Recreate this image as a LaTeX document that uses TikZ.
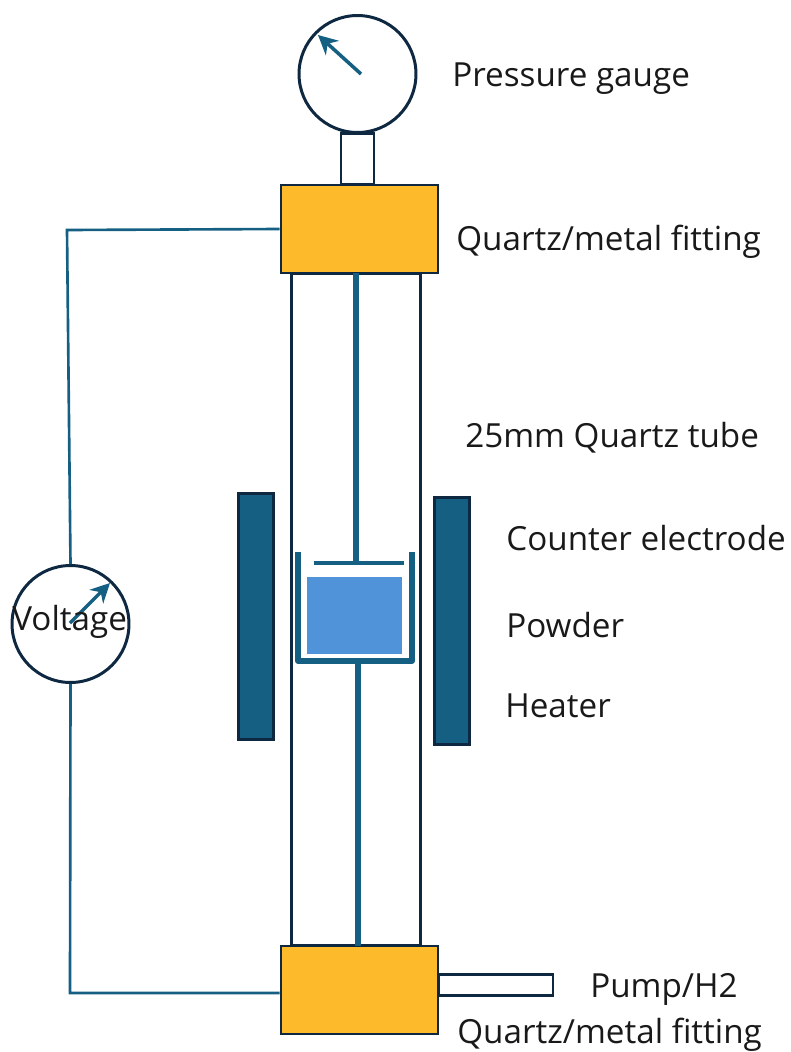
\documentclass[tikz,border=0pt]{standalone}
\usepackage{fontspec}
\setmainfont{Open Sans}
\usetikzlibrary{arrows.meta}
\definecolor{darkline}{HTML}{0E2841}
\definecolor{teal}{HTML}{156082}
\definecolor{fittingcol}{HTML}{FDBB2B}
\definecolor{powdercol}{HTML}{5093D8}
\tikzset{
	fitting/.style={draw=darkline,fill=fittingcol,line width=1.5pt,minimum width=3.14cm,minimum height=1.76cm,inner sep=0pt},
	heater/.style={draw=darkline,fill=teal,line width=1.7pt,minimum width=0.70cm,inner sep=0pt},
	dial/.style={circle,draw=darkline,fill=white,line width=1.7pt,minimum size=2.34cm,inner sep=0pt},
	pipe/.style={draw=darkline,line width=1.7pt,inner sep=0pt},
	wire/.style={draw=teal,line width=1.5pt},
	rod/.style={draw=teal,line width=3.3pt},
	pointer/.style={draw=teal,line width=2pt,-{Stealth[length=11pt,width=11pt]}},
	label/.style={anchor=west,inner sep=0pt,font=\fontsize{18.9}{22}\selectfont,text=black!90}
}
\begin{document}
\begin{tikzpicture}[x=0.02cm,y=-0.02cm]
	\useasboundingbox (0,0) rectangle (791,1052);
	% tube and pipes
	\node[pipe,minimum width=2.6cm,minimum height=13.46cm] (tube) at (356,609.5) {};
	\node[pipe,minimum width=0.66cm,minimum height=1.02cm] (stem) at (357.5,158.5) {};
	\node[pipe,minimum width=2.3cm,minimum height=0.42cm] (pump) at (495.5,984.5) {};
	% fittings
	\node[fitting] (topfit) at (359.5,229) {};
	\node[fitting] (botfit) at (359.5,990) {};
	% gauge
	\node[dial] (gauge) at (357.5,74) {};
	\coordinate (gaugepivot) at (361,74);
	\coordinate (gaugetip) at (318,35);
	\draw[pointer] (gaugepivot) -- (gaugetip);
	% heaters
	\node[heater,minimum height=4.92cm] (heatleft) at (256,616.5) {};
	\node[heater,minimum height=4.94cm] (heatright) at (452,621) {};
	% crucible
	\coordinate (lidtop) at (356,273);
	\coordinate (lidjoin) at (356,563);
	\coordinate (lidleft) at (314,563);
	\coordinate (lidright) at (404,563);
	\coordinate (cupbot) at (358,661);
	\coordinate (fitbot) at (358,946);
	\node[fill=powdercol,minimum width=1.9cm,minimum height=1.54cm,inner sep=0pt] (powder) at (354.5,615.5) {};
	\draw[rod,line width=3pt,line join=round] (298,552) -- (298,661) -- (412,661) -- (412,552);
	\draw[rod,line width=2pt] (lidleft) -- (lidright);
	\draw[rod] (lidtop) -- (lidjoin);
	\draw[rod] (cupbot) -- (fitbot);
	% voltage meter
	\node[dial] (meter) at (70.5,624) {};
	\coordinate (meterpivot) at (70,623);
	\coordinate (metertip) at (110,583);
	\draw[pointer] (meterpivot) -- (metertip);
	\coordinate (wiretop) at (67,230);
	\coordinate (wirebot) at (70,993);
	\draw[wire] (topfit.west) -- (wiretop) -- (meter.north);
	\draw[wire] (meter.south) -- (wirebot) -- (botfit.west |- wirebot);
	% labels
	\node[label] (lblgauge) at (452,79) {Pressure gauge};
	\node[label] (lbltopfit) at (456,242) {Quartz/metal fitting};
	\node[label] (lbltube) at (465,438) {25mm Quartz tube};
	\node[label] (lblcounter) at (506,538) {Counter electrode};
	\node[label] (lblpowder) at (506,625) {Powder};
	\node[label] (lblheater) at (505,706) {Heater};
	\node[label] (lblpump) at (590,989) {Pump/H2};
	\node[label] (lblbotfit) at (457,1035) {Quartz/metal fitting};
	\node[label] (lblvolt) at (12,622) {Voltage};
\end{tikzpicture}
\end{document}
